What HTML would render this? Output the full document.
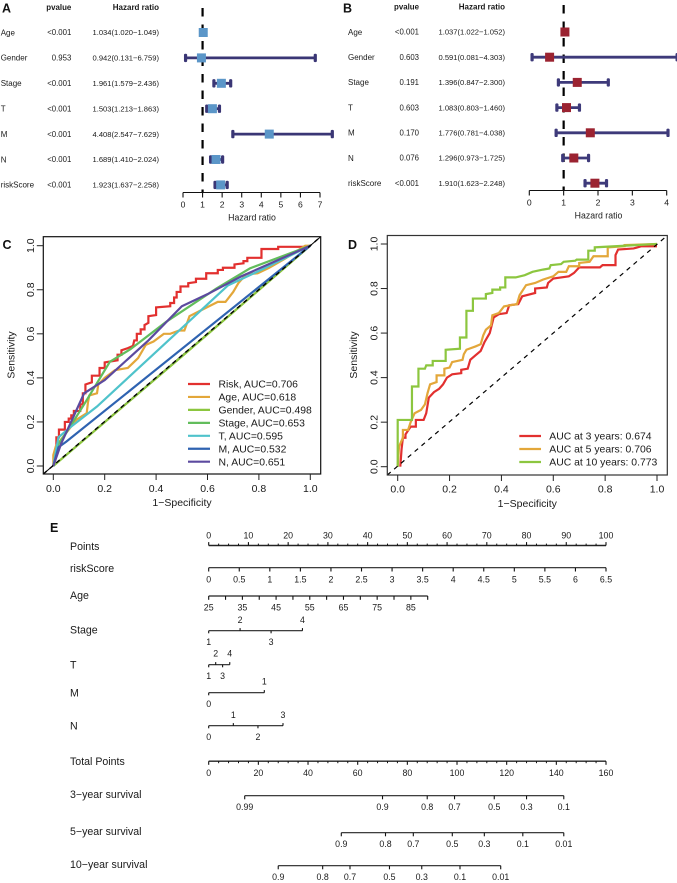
<!DOCTYPE html>
<html lang="en">
<head>
<meta charset="utf-8">
<title>Prognostic model figure</title>
<style>
html,body{margin:0;padding:0;background:#fff;}
#figure{display:block;width:677px;height:883px;font-family:"Liberation Sans",Arial,sans-serif;}
text{fill:#1a1a1a;}
</style>
</head>
<body>
<svg id="figure" xmlns="http://www.w3.org/2000/svg" width="677" height="883" viewBox="0 0 677 883">
<rect x="0" y="0" width="677" height="883" fill="#fff"/>
<text x="2" y="12.7" font-size="12.5" font-weight="700" style="fill:#111">A</text>
<text x="343" y="12.7" font-size="12.5" font-weight="700" style="fill:#111">B</text>
<text x="2.5" y="249" font-size="12.5" font-weight="700" style="fill:#111">C</text>
<text x="348" y="249" font-size="12.5" font-weight="700" style="fill:#111">D</text>
<text x="50" y="532" font-size="12.5" font-weight="700" style="fill:#111">E</text>
</svg>
<script>
/* ---------- Forest plot data ---------- */
const forestCovariates = ["Age","Gender","Stage","T","M","N","riskScore"];
const forestATicks = [0,1,2,3,4,5,6,7];
const forestBTicks = [0,1,2,3,4];
const forestAPvalues = ["<0.001","0.953","<0.001","<0.001","<0.001","<0.001","<0.001"];
const forestAHazard = [1.034,0.942,1.961,1.503,4.408,1.689,1.923];
const forestALower = [1.020,0.131,1.579,1.213,2.547,1.410,1.637];
const forestAUpper = [1.049,6.759,2.436,1.863,7.629,2.024,2.258];
const forestBPvalues = ["<0.001","0.603","0.191","0.603","0.170","0.076","<0.001"];
const forestBHazard = [1.037,0.591,1.396,1.083,1.776,1.296,1.910];
const forestBLower = [1.022,0.081,0.847,0.803,0.781,0.973,1.623];
const forestBUpper = [1.052,4.303,2.300,1.460,4.038,1.725,2.248];

/* ---------- ROC data ---------- */
const rocTicks = [0,0.2,0.4,0.6,0.8,1];
const rocCLegend = ["Risk, AUC=0.706","Age, AUC=0.618","Gender, AUC=0.498","Stage, AUC=0.653","T, AUC=0.595","M, AUC=0.532","N, AUC=0.651"];
const rocDLegend = ["AUC at 3 years: 0.674","AUC at 5 years: 0.706","AUC at 10 years: 0.773"];

const riskFpr = [0,0.005,0.012,0.012,0.022,0.022,0.045,0.045,0.06,0.06,0.07,0.07,0.08,0.08,0.105,0.105,0.115,0.115,0.125,0.125,0.15,0.15,0.18,0.18,0.2,0.2,0.25,0.25,0.265,0.265,0.29,0.31,0.315,0.325,0.325,0.34,0.34,0.355,0.355,0.37,0.37,0.4,0.4,0.455,0.455,0.47,0.47,0.48,0.48,0.495,0.495,0.525,0.525,0.555,0.555,0.595,0.595,0.64,0.64,0.66,0.66,0.705,0.705,0.74,0.74,0.755,0.755,0.81,0.81,0.875,0.875,0.97,1];
const riskTpr = [0,0.06,0.09,0.13,0.13,0.165,0.165,0.2,0.2,0.215,0.215,0.23,0.23,0.25,0.25,0.28,0.28,0.33,0.33,0.37,0.38,0.41,0.41,0.445,0.445,0.47,0.48,0.505,0.505,0.525,0.535,0.545,0.57,0.57,0.6,0.6,0.62,0.62,0.64,0.65,0.68,0.685,0.72,0.725,0.74,0.74,0.765,0.765,0.79,0.79,0.815,0.815,0.83,0.835,0.85,0.85,0.875,0.875,0.89,0.89,0.9,0.9,0.915,0.92,0.93,0.93,0.945,0.945,0.985,0.985,0.995,0.995,1];
const ageFpr = [0,0,0.01,0.03,0.05,0.09,0.13,0.135,0.14,0.17,0.175,0.2,0.24,0.29,0.33,0.36,0.39,0.43,0.455,0.49,0.51,0.53,0.58,0.64,0.67,0.7,0.72,0.75,0.795,0.84,0.9,0.98,1];
const ageTpr = [0,0.05,0.09,0.12,0.15,0.21,0.24,0.29,0.32,0.33,0.37,0.4,0.435,0.445,0.49,0.55,0.565,0.6,0.6,0.615,0.615,0.68,0.71,0.745,0.745,0.79,0.83,0.87,0.875,0.9,0.94,1,1];
const genderFpr = [0,0.5,1];
const genderTpr = [0,0.497,1];
const stageFpr = [0,0.02,0.05,0.12,0.22,0.3,0.44,0.635,0.765,1];
const stageTpr = [0,0.1,0.15,0.28,0.473,0.53,0.655,0.806,0.897,1];
const tFpr = [0,0.02,0.06,0.17,0.68,0.8,1];
const tTpr = [0,0.13,0.17,0.27,0.82,0.885,1];
const mFpr = [0,0.02,0.05,1];
const mTpr = [0,0.085,0.11,1];
const nFpr = [0,0.03,0.12,0.2,0.37,0.5,0.6,0.73,1];
const nTpr = [0,0.1,0.33,0.39,0.57,0.725,0.78,0.86,1];

const year3Fpr = [0.01,0.015,0.02,0.03,0.03,0.05,0.07,0.07,0.1,0.11,0.12,0.14,0.16,0.175,0.19,0.21,0.245,0.245,0.27,0.28,0.3,0.32,0.335,0.355,0.37,0.39,0.42,0.43,0.465,0.48,0.53,0.53,0.575,0.58,0.6,0.66,0.68,0.7,0.78,0.79,0.84,0.84,0.85,0.91,0.94,1];
const year3Tpr = [0,0.08,0.13,0.13,0.145,0.18,0.18,0.21,0.21,0.24,0.31,0.335,0.35,0.37,0.4,0.415,0.42,0.435,0.44,0.48,0.5,0.52,0.56,0.6,0.67,0.685,0.69,0.725,0.73,0.765,0.78,0.8,0.805,0.825,0.845,0.855,0.87,0.895,0.895,0.905,0.905,0.95,0.975,0.98,0.99,0.99];
const year5Fpr = [0,0.005,0.02,0.02,0.04,0.05,0.065,0.09,0.105,0.115,0.125,0.15,0.15,0.18,0.18,0.2,0.21,0.25,0.255,0.265,0.3,0.32,0.33,0.34,0.36,0.365,0.39,0.41,0.46,0.47,0.495,0.53,0.56,0.6,0.62,0.65,0.66,0.7,0.7,0.74,0.755,0.81,0.81,0.875,0.875,1];
const year5Tpr = [0,0.09,0.13,0.165,0.165,0.2,0.24,0.255,0.28,0.33,0.37,0.38,0.41,0.41,0.44,0.445,0.47,0.48,0.505,0.525,0.54,0.55,0.59,0.615,0.635,0.68,0.69,0.72,0.73,0.77,0.815,0.825,0.84,0.855,0.875,0.875,0.9,0.9,0.915,0.92,0.945,0.945,0.985,0.99,0.995,1];
const year10Fpr = [0,0,0.055,0.055,0.08,0.08,0.105,0.11,0.135,0.135,0.185,0.185,0.24,0.24,0.265,0.265,0.29,0.29,0.34,0.34,0.365,0.365,0.395,0.395,0.415,0.415,0.455,0.49,0.52,0.56,0.585,0.59,0.63,0.64,0.685,0.69,0.735,0.735,0.76,0.76,1];
const year10Tpr = [0,0.21,0.21,0.36,0.36,0.44,0.44,0.455,0.455,0.475,0.475,0.525,0.53,0.58,0.58,0.7,0.7,0.755,0.755,0.775,0.78,0.795,0.795,0.805,0.805,0.85,0.85,0.86,0.875,0.885,0.89,0.905,0.91,0.92,0.925,0.93,0.93,0.97,0.97,0.985,1];

/* ---------- Nomogram data (values are points on the 0-100 / total-point scales) ---------- */
const pointsTicks = [0,10,20,30,40,50,60,70,80,90,100];
const riskScoreTicks = [0,0.5,1,1.5,2,2.5,3,3.5,4,4.5,5,5.5,6,6.5];
const ageTicks = [25,30,35,40,45,50,55,60,65,70,75,80,85,90];
const ageLabels = ["25","","35","","45","","55","","65","","75","","85",""];
const stageLabels = ["1","2","3","4"];
const stagePoints = [0,7.9,15.7,23.6];
const tLabels = ["1","2","3","4"];
const tPoints = [0,1.76,3.5,5.3];
const mLabels = ["0","1"];
const mPoints = [0,14];
const nLabels = ["0","1","2","3"];
const nPoints = [0,6.2,12.4,18.7];
const totalTicks = [0,20,40,60,80,100,120,140,160];
const survival3Labels = ["0.99","0.9","0.8","0.7","0.5","0.3","0.1"];
const survival3Total = [14.5,70,88,99,115,128,143];
const survival5Labels = ["0.9","0.8","0.7","0.5","0.3","0.1","0.01"];
const survival5Total = [53.4,71.2,82.4,98.1,111,126.5,143];
const survival10Labels = ["0.9","0.8","0.7","0.5","0.3","0.1","0.01"];
const survival10Total = [28,45.9,56.9,72.8,85.8,101.2,117.6];

/* ---------- Helpers ---------- */
const NS = "http://www.w3.org/2000/svg";
const figure = document.getElementById("figure");
function mk(tag, props, parent){
  const n = document.createElementNS(NS, tag);
  for (const k in props) n.setAttribute(k, props[k]);
  (parent || figure).appendChild(n);
  return n;
}
function segment(x1,y1,x2,y2,color,width,parent){
  return mk("line",{x1:x1,y1:y1,x2:x2,y2:y2,stroke:color,"stroke-width":width},parent);
}
function label(str,x,y,size,anchor,parent,weight,rotate){
  const base = y + size*0.35;
  const props = {x:x,y:base,"font-size":size,"text-anchor":anchor||"middle"};
  if (weight) props["font-weight"] = weight;
  if (rotate) { props.x = 0; props.y = size*0.35; props.transform = "translate("+x+" "+y+") rotate(-90)"; }
  const n = mk("text",props,parent);
  n.textContent = str;
  return n;
}
function scale(d0,d1,r0,r1){ return v => r0 + (v-d0)*(r1-r0)/(d1-d0); }
function slug(s){ return String(s).toLowerCase().replace(/[^a-z0-9]+/g,"-"); }

/* ---------- Forest plots ---------- */
function drawForest(key,cfg){
  const g = mk("g",{});
  
  
  const x = scale(0,cfg.ticks[cfg.ticks.length-1],cfg.x0,cfg.x1);
  const rowY = i => cfg.rowStart + i*cfg.rowStep;

  const h1 = label("pvalue",cfg.pRight,cfg.headY,7.9,"end",g,700);
  
  
  const h2 = label("Hazard ratio",cfg.hrRight,cfg.headY,8,"end",g,700);
  
  

  forestCovariates.forEach((name,i)=>{
    const y = rowY(i);
    const t1 = label(name,cfg.nameLeft,y,8,"start",g);
    
    
    const t2 = label(cfg.p[i],cfg.pRight,y,7.8,"end",g);
    
    
    const txt = cfg.hr[i].toFixed(3)+"("+cfg.lo[i].toFixed(3)+"\u2212"+cfg.hi[i].toFixed(3)+")";
    const t3 = label(txt,cfg.hrRight,y,7.6,"end",g);
    
    
  });

  const ref = segment(x(1),cfg.dashTop,x(1),cfg.axisY,"#000",2.2,g);
  ref.setAttribute("stroke-dasharray","8.5 8");
  
  

  forestCovariates.forEach((name,i)=>{
    const y = rowY(i);
    const w = segment(x(cfg.lo[i]),y,x(cfg.hi[i]),y,cfg.lineColor,2.8,g);
    
    
    const c1 = mk("rect",{x:x(cfg.lo[i])-1.6,y:y-4.2,width:3.2,height:8.4,rx:1.3,fill:cfg.lineColor},g);
    
    
    const c2 = mk("rect",{x:x(cfg.hi[i])-1.6,y:y-4.2,width:3.2,height:8.4,rx:1.3,fill:cfg.lineColor},g);
    
    
    const b = mk("rect",{x:x(cfg.hr[i])-4.5,y:y-4.5,width:9,height:9,fill:cfg.boxColor},g);
    
    
  });

  const ax = segment(cfg.x0,cfg.axisY,cfg.x1,cfg.axisY,"#111",1.1,g);
  
  
  cfg.ticks.forEach(v=>{
    const t = segment(x(v),cfg.axisY,x(v),cfg.axisY+5,"#111",1.1,g);
    
    
    const l = label(String(v),x(v),cfg.axisY+12,8.6,"middle",g);
    
    
  });
  const title = label("Hazard ratio",(cfg.x0+cfg.x1)/2+0.5,cfg.axisY+24.8,8.75,"middle",g);
  
  
}
drawForest("a",{ticks:forestATicks,x0:183,x1:320,axisY:192.5,rowStart:32.5,rowStep:25.4,headY:7,dashTop:8,
  nameLeft:0.7,pRight:71.3,hrRight:159,p:forestAPvalues,hr:forestAHazard,lo:forestALower,hi:forestAUpper,
  lineColor:"#3a3675",boxColor:"#5b96c8"});
drawForest("b",{ticks:forestBTicks,x0:529.3,x1:666.7,axisY:190.5,rowStart:32,rowStep:25.2,headY:6.5,dashTop:5,
  nameLeft:348,pRight:419,hrRight:505,p:forestBPvalues,hr:forestBHazard,lo:forestBLower,hi:forestBUpper,
  lineColor:"#3e3a7a",boxColor:"#9b2331"});

/* ---------- ROC plots ---------- */
function drawRoc(key,cfg){
  const g = mk("g",{});
  
  
  const x = scale(0,1,cfg.xZero,cfg.xOne);
  const y = scale(0,1,cfg.yZero,cfg.yOne);

  if (cfg.solidDiagonal) {
    const base = segment(cfg.left,cfg.bottom,cfg.right,cfg.top,"#000",1,g);
    
    
  }
  cfg.series.forEach((s,i)=>{
    const pts = s.fpr.map((v,j)=>x(v).toFixed(2)+","+y(s.tpr[j]).toFixed(2)).join(" ");
    const line = mk("polyline",{points:pts,fill:"none",stroke:s.color,"stroke-width":2.2,"stroke-linejoin":"miter"},g);
    
    
  });
  const diag = segment(cfg.left,cfg.bottom,cfg.right,cfg.top,"#000",cfg.dashWidth,g);
  diag.setAttribute("stroke-dasharray",cfg.dash);
  
  

  const box = mk("rect",{x:cfg.left,y:cfg.top,width:cfg.right-cfg.left,height:cfg.bottom-cfg.top,fill:"none",stroke:cfg.boxColor,"stroke-width":1.2},g);
  
  

  rocTicks.forEach(v=>{
    const txt = v.toFixed(1);
    const tx = segment(x(v),cfg.bottom,x(v),cfg.bottom+6,"#222",1,g);
    
    
    const lx = label(txt,x(v),cfg.xLabelY,10.5,"middle",g);
    
    
    const ty = segment(cfg.left-6.5,y(v),cfg.left,y(v),"#222",1,g);
    
    
    const ly = label(txt,cfg.yLabelX,y(v),10.5,"middle",g,null,true);
    
    
  });
  const xt = label("1\u2212Specificity",cfg.xTitleX,cfg.xTitleY,10.5,"middle",g);
  
  
  const yt = label("Sensitivity",cfg.yTitleX,355,10.5,"middle",g,null,true);
  
  

  cfg.legend.forEach((txt,i)=>{
    const ly = cfg.legendY + i*cfg.legendStep;
    const swatch = segment(cfg.swatchX0,ly,cfg.swatchX1,ly,cfg.series[i].color,2.2,g);
    
    
    const entry = label(txt,cfg.legendTextX,ly,10.4,"start",g);
    
    
  });
}
drawRoc("c",{left:43.3,right:320.7,top:236.7,bottom:474,xZero:53.3,xOne:310.3,yZero:466,yOne:245.7,
  xLabelY:488.5,yLabelX:30.5,xTitleX:182,xTitleY:502.5,yTitleX:10.7,
  solidDiagonal:true,dash:"4.5 4",dashWidth:1.4,boxColor:"#111",
  legend:rocCLegend,legendY:384,legendStep:12.95,swatchX0:188,swatchX1:210,legendTextX:218.5,
  series:[
    {fpr:riskFpr,tpr:riskTpr,color:"#e2302f"},
    {fpr:ageFpr,tpr:ageTpr,color:"#e3a73a"},
    {fpr:genderFpr,tpr:genderTpr,color:"#8cc63f"},
    {fpr:stageFpr,tpr:stageTpr,color:"#62bd5c"},
    {fpr:tFpr,tpr:tTpr,color:"#4fc3cb"},
    {fpr:mFpr,tpr:mTpr,color:"#2f63b1"},
    {fpr:nFpr,tpr:nTpr,color:"#5c4a9f"}
  ]});
drawRoc("d",{left:387.3,right:667.3,top:235.5,bottom:475,xZero:397.7,xOne:657,yZero:466.7,yOne:244,
  xLabelY:489,yLabelX:374,xTitleX:527.3,xTitleY:503.3,yTitleX:353.3,
  solidDiagonal:false,dash:"4.5 4.5",dashWidth:1.2,boxColor:"#333",
  legend:rocDLegend,legendY:436,legendStep:13,swatchX0:519.3,swatchX1:541,legendTextX:549.3,
  series:[
    {fpr:year3Fpr,tpr:year3Tpr,color:"#e2302f"},
    {fpr:year5Fpr,tpr:year5Tpr,color:"#e3a73a"},
    {fpr:year10Fpr,tpr:year10Tpr,color:"#8cc63f"}
  ]});

/* ---------- Nomogram ---------- */
const nomoG = mk("g",{});


const NOMO_LEFT = 208.7, NOMO_RIGHT = 606;
const pointsX = scale(0,100,NOMO_LEFT,NOMO_RIGHT);
const totalX = scale(0,160,NOMO_LEFT,NOMO_RIGHT);
const riskScoreX = scale(0,6.5,NOMO_LEFT,NOMO_RIGHT);
const ageX = scale(25,90,NOMO_LEFT,427.7);

function rowTitle(txt,y){
  const t = label(txt,70,y,10.6,"start",nomoG);
  
  
}
function scaleLine(name,x0,x1,y,width){
  const l = segment(x0,y,x1,y,"#222",width||1.15,nomoG);
  
  
}
/* side: +1 draws tick and label below the line, -1 above */
function scaleTick(name,txt,x,y,side,labelOffset,len){
  const t = segment(x,y,x,y+side*(len||3.6),"#111",1.1,nomoG);
  
  
  if (txt) {
    const l = label(txt,x,y+side*labelOffset,8.8,"middle",nomoG);
    
    
  }
}

/* Points */
rowTitle("Points",546.5);
scaleLine("points",pointsX(0),pointsX(100),545.5,1.4);
pointsTicks.forEach(v=>scaleTick("points",String(v),pointsX(v),545.5,-1,10.3,3.4));
pointsTicks.slice(0,-1).forEach(v=>{
  [2.5,5,7.5].forEach(d=>{
    const m = segment(pointsX(v+d),545.5,pointsX(v+d),543.6,"#111",1,nomoG);
    
    
  });
});
/* riskScore */
rowTitle("riskScore",568.5);
scaleLine("risk-score",riskScoreX(0),riskScoreX(6.5),567.7);
riskScoreTicks.forEach(v=>scaleTick("risk-score",String(v),riskScoreX(v),567.7,1,11.5,3.8));
/* Age */
rowTitle("Age",595.5);
scaleLine("age",ageX(25),ageX(90),596);
ageTicks.forEach((v,i)=>scaleTick("age-"+v,ageLabels[i],ageX(v),596,1,11.5,3.8));
/* Stage */
rowTitle("Stage",629.7);
scaleLine("stage",pointsX(stagePoints[0]),pointsX(stagePoints[3]),630.7);
stagePoints.forEach((p,i)=>scaleTick("stage",stageLabels[i],pointsX(p),630.7,i%2?-1:1,11,2.6));
/* T */
rowTitle("T",665);
scaleLine("t",pointsX(tPoints[0]),pointsX(tPoints[3]),664.7);
tPoints.forEach((p,i)=>scaleTick("t",tLabels[i],pointsX(p),664.7,i%2?-1:1,11.3,2.6));
/* M */
rowTitle("M",693);
scaleLine("m",pointsX(mPoints[0]),pointsX(mPoints[1]),692.7);
mPoints.forEach((p,i)=>scaleTick("m",mLabels[i],pointsX(p),692.7,i%2?-1:1,11.2,2.6));
/* N */
rowTitle("N",725.7);
scaleLine("n",pointsX(nPoints[0]),pointsX(nPoints[3]),725.7);
nPoints.forEach((p,i)=>scaleTick("n",nLabels[i],pointsX(p),725.7,i%2?-1:1,11,2.6));
/* Total points */
rowTitle("Total Points",761.5);
scaleLine("total-points",totalX(0),totalX(160),761.2,1.3);
totalTicks.forEach(v=>scaleTick("total-points",String(v),totalX(v),761.2,1,11.5,3.6));
totalTicks.slice(0,-1).forEach(v=>{
  [4,8,12,16].forEach(d=>{
    const m = segment(totalX(v+d),761.2,totalX(v+d),763.2,"#111",1,nomoG);
    
    
  });
});
/* Survival scales */
function survivalRow(title,name,y,labels,totals){
  rowTitle(title,y-1.5);
  scaleLine(name,totalX(totals[0]),totalX(totals[totals.length-1]),y);
  totals.forEach((p,i)=>scaleTick(name,labels[i],totalX(p),y,1,11.2,3.6));
}
survivalRow("3\u2212year survival","survival-3-year",795.7,survival3Labels,survival3Total);
survivalRow("5\u2212year survival","survival-5-year",832.7,survival5Labels,survival5Total);
survivalRow("10\u2212year survival","survival-10-year",865.7,survival10Labels,survival10Total);
</script>
</body>
</html>
